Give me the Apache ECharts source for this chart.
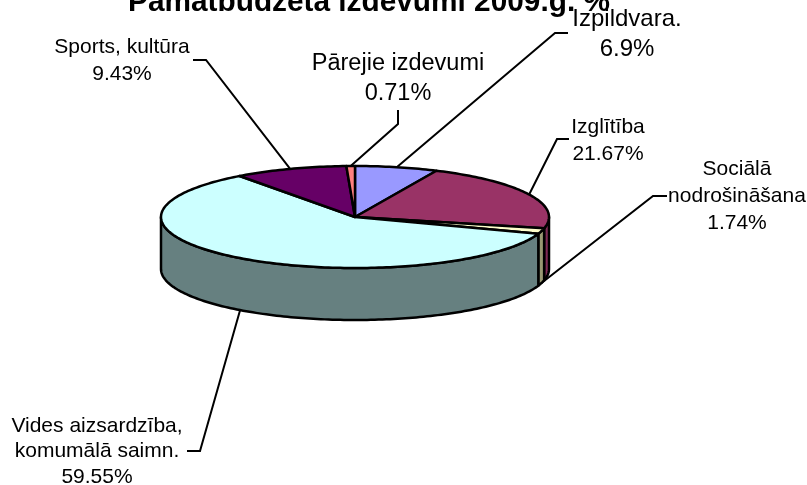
<!DOCTYPE html>
<html>
<head>
<meta charset="utf-8">
<style>
  html, body { margin: 0; padding: 0; background: #fff; }
  #chart { width: 807px; height: 485px; }
</style>
<script src="https://cdn.jsdelivr.net/npm/echarts@6/dist/echarts.min.js"></script>
</head>
<body>
<div id="chart"></div>
<script>
const categories = ['Izpildvara.', 'Izglītība', 'Sociālā\nnodrošināšana', 'Vides aizsardzība,\nkomumālā saimn.', 'Sports, kultūra', 'Pārejie izdevumi']
const shares = [6.9, 21.67, 1.74, 59.55, 9.43, 0.71]
const shareLabels = ['6.9%', '21.67%', '1.74%', '59.55%', '9.43%', '0.71%']
const topColors = ['#9999ff', '#993366', '#ffffcc', '#ccffff', '#660066', '#ff8080']
const sideColors = ['#4d4d80', '#7f2a55', '#999973', '#668080', '#330033', '#804040']

// ellipse of the tilted pie
const cx = 355, cy = 217, rx = 194, ry = 51, depth = 52
const FONT = '"Liberation Sans", Arial, sans-serif'

// label text box and the leader line's tail + elbow
const labelBoxes = [
    { x: 627, y: 4.5, size: 24, lh: 30, tail: [568, 33], elbow: [555, 33] },
    { x: 608, y: 114, size: 21, lh: 27, tail: [569, 139], elbow: [557, 139] },
    { x: 737, y: 156, size: 21, lh: 27, tail: [667, 196], elbow: [653, 196] },
    { x: 97, y: 413, size: 21, lh: 25.5, tail: [187, 451], elbow: [200, 451] },
    { x: 122, y: 34, size: 21, lh: 27, tail: [193, 60], elbow: [206, 60] },
    { x: 398, y: 49, size: 23.5, lh: 30, tail: [398, 110], elbow: [398, 124] }
]

let acc = 0
const sliceAngles = shares.map(v => {
    const from = acc / 100 * Math.PI * 2
    acc += v
    return [from, acc / 100 * Math.PI * 2]
})

function onEllipse(t, dy) {
    return [cx + rx * Math.sin(t), cy - ry * Math.cos(t) + (dy || 0)]
}

function arcPoints(from, to, dy) {
    const steps = Math.max(2, Math.ceil((to - from) / 0.02))
    const pts = []
    for (let i = 0; i <= steps; i++) pts.push(onEllipse(from + (to - from) * i / steps, dy))
    return pts
}

function renderSide(params) {
    const [a0, a1] = sliceAngles[params.dataIndex]
    const from = Math.max(a0, Math.PI / 2)
    const to = Math.min(a1, Math.PI * 1.5)
    if (from >= to) return { type: 'group', children: [] }
    const pts = arcPoints(from, to, 0).concat(arcPoints(from, to, depth).reverse())
    return {
        type: 'polygon',
        shape: { points: pts },
        style: { fill: sideColors[params.dataIndex], stroke: '#000', lineWidth: 2.5, lineJoin: 'round' }
    }
}

function renderTop(params) {
    const [a0, a1] = sliceAngles[params.dataIndex]
    const pts = [[cx, cy]].concat(arcPoints(a0, a1, 0))
    return {
        type: 'polygon',
        shape: { points: pts },
        style: { fill: topColors[params.dataIndex], stroke: '#000', lineWidth: 2.5, lineJoin: 'round' }
    }
}

function renderLabel(params) {
    const i = params.dataIndex
    const box = labelBoxes[i]
    const [a0, a1] = sliceAngles[i]
    const mid = (a0 + a1) / 2
    // front slices carry the leader on the lower rim
    const end = onEllipse(mid, mid > Math.PI / 2 && mid < Math.PI * 1.5 ? depth : 0)
    return {
        type: 'group',
        children: [
            {
                type: 'polyline',
                shape: { points: [box.tail, box.elbow, end] },
                style: { fill: null, stroke: '#000', lineWidth: 2 }
            },
            {
                type: 'text',
                style: {
                    x: box.x,
                    y: box.y,
                    text: categories[i] + '\n' + shareLabels[i],
                    font: box.size + 'px ' + FONT,
                    lineHeight: box.lh,
                    fill: '#000',
                    align: 'center',
                    verticalAlign: 'top'
                }
            }
        ]
    }
}

const chart = echarts.init(document.getElementById('chart'), null, { renderer: 'canvas' })
chart.setOption({
    animation: false,
    backgroundColor: '#fff',
    title: {
        text: 'Pamatbudžeta izdevumi 2009.g. %',
        left: 364,
        top: -17,
        textAlign: 'center',
        textStyle: { fontFamily: FONT, fontSize: 29.8, fontWeight: 'bold', color: '#000' }
    },
    series: [
        { type: 'custom', coordinateSystem: 'none', z: 2, data: shares, renderItem: renderLabel },
        { type: 'custom', coordinateSystem: 'none', z: 3, data: shares, renderItem: renderSide },
        { type: 'custom', coordinateSystem: 'none', z: 4, data: shares, renderItem: renderTop }
    ]
})
</script>
</body>
</html>
